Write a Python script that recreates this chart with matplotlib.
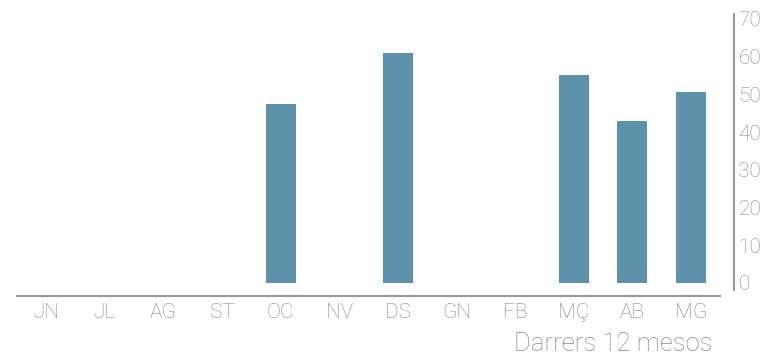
import numpy as np
import matplotlib.pyplot as plt
from matplotlib import font_manager

# months (catalan abbreviations) and values
months = ['JN', 'JL', 'AG', 'ST', 'OC', 'NV', 'DS', 'GN', 'FB', 'MÇ', 'AB', 'MG']
values = [0, 0, 0, 0, 47.5, 0, 61, 0, 0, 55.2, 43, 50.7]
yticks = [0, 10, 20, 30, 40, 50, 60, 70]

bar_color = '#5e91aa'
grey = '#999999'
text_grey = '#868686'

names = {f.name for f in font_manager.fontManager.ttflist}
fam = 'Roboto' if 'Roboto' in names else 'DejaVu Sans'
plt.rcParams['font.family'] = fam
plt.rcParams['font.weight'] = 'light'

fig = plt.figure(figsize=(7.71, 3.55), dpi=100)
ax = fig.add_axes([0.0217, 0.183, 0.9126, 0.7775])

x = np.arange(len(months))
ax.bar(x, values, width=0.51, color=bar_color)

ax.set_xlim(-0.5, len(months) - 0.5)
ax.set_ylim(-1.9, 71.3)

for s in ['top', 'left']:
    ax.spines[s].set_visible(False)
ax.spines['bottom'].set_position(('outward', 4.3))
ax.spines['right'].set_position(('outward', 10))
ax.spines['bottom'].set_color(grey)
ax.spines['right'].set_color(grey)
ax.spines['bottom'].set_linewidth(1.5)
ax.spines['right'].set_linewidth(1.5)

ax.yaxis.tick_right()
ax.set_yticks(yticks)
ax.set_xticks(x)
ax.set_xticklabels(months)
ax.tick_params(axis='both', length=0, labelsize=15, labelcolor=text_grey)
ax.tick_params(axis='x', pad=5)
ax.tick_params(axis='y', pad=3)

fig.text(0.9235, -0.002, 'Darrers 12 mesos', ha='right', va='bottom',
         fontsize=18.5, color=text_grey, fontweight='light')

fig.savefig('out.png', dpi=100)
